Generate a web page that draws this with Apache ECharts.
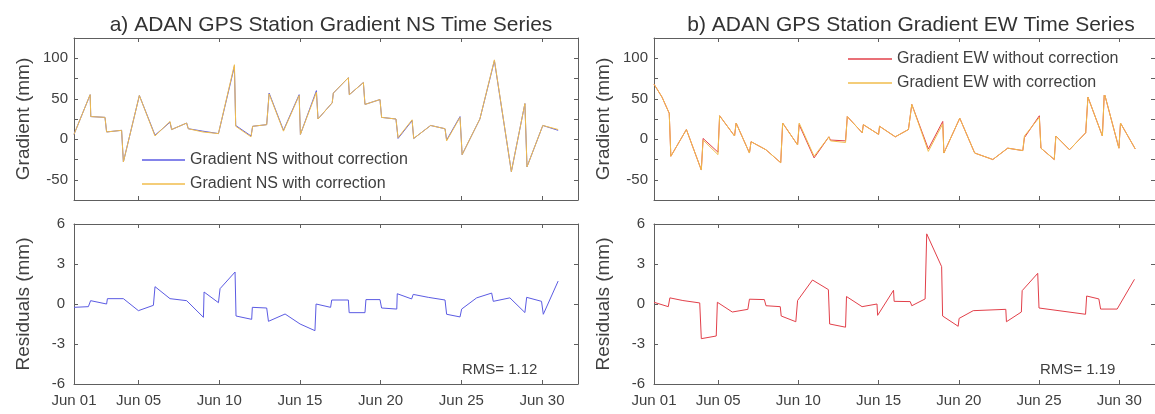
<!DOCTYPE html>
<html>
<head>
<meta charset="utf-8">
<script src="https://cdn.jsdelivr.net/npm/echarts@6/dist/echarts.min.js"></script>
<style>
  html, body { margin: 0; padding: 0; background: #fff; }
  #chart { width: 1155px; height: 414px; }
</style>
</head>
<body>
<div id="chart"></div>
<script>
// x values are days of June (1 = Jun 01 00:00)
const nsDays    = [1.00, 2.00, 2.04, 2.92, 3.02, 3.95, 4.06, 5.05, 6.02, 6.95, 7.05, 7.98, 8.08, 8.98, 9.08, 9.95, 10.94, 11.02, 11.97, 12.07, 12.94, 13.09, 13.98, 14.95, 15.03, 16.02, 16.12, 17.00, 17.07, 18.00, 18.06, 18.93, 19.03, 19.96, 20.06, 20.95, 21.08, 21.95, 22.05, 23.10, 23.99, 24.09, 24.92, 25.05, 25.95, 26.15, 27.05, 28.10, 28.94, 29.07, 30.05, 31.00]
const nsWithout = [6, 55, 28, 27, 9, 11, -28, 54, 5, 21, 12, 20, 13, 10, 8, 7, 90, 17, 4, 16, 18, 57, 11, 55, 6, 60, 25, 45, 57, 76, 55, 70, 43, 49, 27, 25, 1, 23, 1, 17, 13, -1, 28, -19, 17, 25, 97, -40, 44, -34, 17, 11]
const nsWith    = [6, 55, 28, 27, 9, 11, -28, 54, 4, 22, 12, 20, 13, 9, 9, 7, 92, 16, 3, 16, 18, 56, 10, 54, 6, 58, 25, 45, 57, 76, 55, 70, 43, 49, 27, 25, 2, 24, 1, 17, 13, -2, 27, -19, 17, 25, 98, -40, 44, -34, 17, 12]

const ewDays    = [1.00, 1.50, 1.95, 2.05, 3.02, 3.95, 4.06, 4.99, 5.09, 6.02, 6.12, 6.95, 7.05, 7.98, 8.05, 8.90, 9.02, 9.95, 10.05, 10.98, 11.90, 12.00, 12.94, 13.05, 13.98, 14.05, 15.00, 15.06, 16.04, 16.86, 17.07, 18.10, 19.00, 19.07, 20.06, 20.99, 22.12, 23.05, 23.99, 24.09, 25.02, 25.12, 25.95, 26.05, 26.90, 27.91, 28.05, 28.95, 29.07, 29.98, 30.08, 31.00]
const ewWithout = [68, 52, 32, -21, 12, -38, 1, -16, 29, 4, 20, -17, -3, -13, -15, -29, 20, -7, 18, -23, 3, -1, -2, 28, 8, 18, 6, 16, 3, 12, 43, -12, 22, -17, 26, -17, -25, -11, -14, 2, 29, -11, -25, 4, -13, 8, 52, 4, 57, -11, 20, -12]
const ewWith    = [68, 52, 32, -21, 12, -38, -1, -19, 29, 4, 20, -17, -3, -13, -15, -29, 20, -7, 20, -21, 3, -2, -4, 28, 8, 18, 6, 16, 3, 12, 43, -15, 19, -17, 26, -17, -25, -11, -14, 4, 27, -11, -25, 4, -13, 8, 52, 4, 57, -11, 20, -12]

const resNsDays = [1.00, 1.89, 2.03, 3.02, 3.07, 4.06, 4.99, 5.92, 6.02, 6.95, 7.98, 8.09, 9.02, 9.06, 9.95, 10.05, 10.98, 11.04, 12.01, 12.05, 12.94, 13.05, 14.08, 15.01, 15.93, 16.00, 16.90, 16.97, 18.00, 18.05, 19.03, 19.09, 19.96, 20.06, 21.00, 21.03, 21.92, 22.02, 22.95, 23.99, 24.09, 24.92, 25.02, 25.95, 26.88, 26.98, 28.01, 28.94, 29.05, 29.97, 30.08, 31.00]
const resNs     = [-0.25, -0.2, 0.25, 0.0, 0.4, 0.4, -0.5, -0.1, 1.3, 0.4, 0.25, 0.1, -1.0, 0.9, 0.1, 1.15, 2.4, -0.9, -1.15, -0.25, -0.3, -1.3, -0.75, -1.5, -2.0, 0.0, -0.25, 0.3, 0.3, -0.65, -0.65, 0.33, 0.33, -0.3, -0.38, 0.77, 0.38, 0.72, 0.5, 0.3, -0.77, -0.97, -0.38, 0.46, 0.82, 0.2, 0.46, -0.64, 0.5, 0.2, -0.77, 1.72]

const resEwDays = [1.00, 1.89, 1.99, 2.80, 3.85, 3.95, 4.88, 4.95, 5.88, 6.85, 6.95, 7.88, 7.98, 8.87, 8.93, 9.84, 9.95, 10.88, 11.87, 11.95, 12.94, 13.00, 13.97, 14.90, 14.94, 15.93, 15.97, 16.97, 17.07, 17.90, 18.00, 18.93, 18.99, 19.96, 20.02, 20.90, 22.93, 22.97, 23.90, 23.95, 24.92, 25.00, 27.90, 27.97, 28.73, 28.84, 29.87, 30.95]
const resEw     = [0.13, -0.2, 0.46, 0.26, 0.08, -2.6, -2.4, 0.13, -0.6, -0.4, 0.36, 0.33, -0.13, -0.2, -0.9, -1.33, 0.26, 1.8, 1.08, -1.5, -1.74, 0.56, -0.2, 0.0, -0.85, 1.03, 0.2, 0.18, -0.13, 0.38, 5.26, 2.8, -0.9, -1.67, -1.08, -0.5, -0.4, -1.33, -0.6, 1.0, 2.3, -0.3, -0.77, 0.6, 0.38, -0.38, -0.38, 1.85]

const dayTicks = [1, 5, 10, 15, 20, 25, 30]
const gradTicksLabelled = [-50, 0, 50, 100]
const rmsLabels = ['RMS= 1.12', 'RMS= 1.19']
const titles = ['a) ADAN GPS Station Gradient NS Time Series', 'b) ADAN GPS Station Gradient EW Time Series']

const FONT = 'Liberation Sans, Arial, sans-serif'
const TXT = '#404040'
const AXIS = '#5e5e5e'

const zip = (xs, ys) => xs.map((x, i) => [x, ys[i]])
const pad2 = v => 'Jun ' + String(v).padStart(2, '0')

const grids = [
  { left: 74, top: 38, width: 504, height: 162 },
  { left: 74, top: 224, width: 504, height: 160 },
  { left: 654, top: 38, width: 504, height: 162 },
  { left: 654, top: 224, width: 504, height: 160 }
]

const xAxes = []
const yAxes = []
grids.forEach((g, i) => {
  const isRes = i % 2 === 1
  ;['bottom', 'top'].forEach(pos => {
    xAxes.push({
      type: 'value', gridIndex: i, position: pos, min: 1, max: 32.23,
      axisLine: { show: true, onZero: false, lineStyle: { color: AXIS, width: 1 } },
      axisTick: { show: true, inside: true, length: 4, customValues: dayTicks, lineStyle: { color: AXIS } },
      axisLabel: {
        show: isRes && pos === 'bottom', customValues: dayTicks, formatter: pad2,
        color: TXT, fontSize: 15, fontFamily: FONT, margin: 9
      },
      splitLine: { show: false }
    })
  })
  ;['left', 'right'].forEach(pos => {
    yAxes.push({
      type: 'value', gridIndex: i, position: pos,
      min: isRes ? -6 : -75, max: isRes ? 6 : 125, interval: isRes ? 3 : 25,
      name: pos === 'left' ? (isRes ? 'Residuals (mm)' : 'Gradient (mm)') : '',
      nameLocation: 'middle', nameGap: 41,
      nameTextStyle: { color: TXT, fontSize: 19, fontFamily: FONT },
      axisLine: { show: true, onZero: false, lineStyle: { color: AXIS, width: 1 } },
      axisTick: { show: true, inside: true, length: 4, lineStyle: { color: AXIS } },
      axisLabel: {
        show: pos === 'left', color: TXT, fontSize: 15, fontFamily: FONT,
        margin: isRes ? 9 : 6,
        formatter: v => (isRes || gradTicksLabelled.includes(v)) ? String(v) : ''
      },
      splitLine: { show: false }
    })
  })
})

const line = (name, data, idx, color, z) => ({
  name, type: 'line', data, xAxisIndex: idx * 2, yAxisIndex: idx * 2,
  symbol: 'none', lineStyle: { color, width: 1 }, itemStyle: { color },
  z, animation: false
})

const BLUE = '#5b5be3'
const YELLOW = '#f1bd4c'
const RED = '#e2404a'

const legendBase = {
  orient: 'vertical', icon: 'rect', itemHeight: 1.5, itemGap: 8,
  padding: [4, 4, 4, 4], backgroundColor: '#fff',
  textStyle: { color: TXT, fontSize: 16, fontFamily: FONT }
}

const option = {
  backgroundColor: '#fff',
  animation: false,
  title: [
    { text: titles[0], left: 326, top: 10, textAlign: 'center', textStyle: { color: '#333', fontSize: 21, fontWeight: 'normal', fontFamily: FONT } },
    { text: titles[1], left: 906, top: 10, textAlign: 'center', textStyle: { color: '#333', fontSize: 21, fontWeight: 'normal', fontFamily: FONT } },
    { text: rmsLabels[0], left: 457, top: 357, textStyle: { color: TXT, fontSize: 15, fontWeight: 'normal', fontFamily: FONT } },
    { text: rmsLabels[1], left: 1035, top: 357, textStyle: { color: TXT, fontSize: 15, fontWeight: 'normal', fontFamily: FONT } }
  ],
  legend: [
    Object.assign({}, legendBase, {
      data: ['Gradient NS without correction', 'Gradient NS with correction'],
      left: 138, top: 148, itemWidth: 43
    }),
    Object.assign({}, legendBase, {
      data: ['Gradient EW without correction', 'Gradient EW with correction'],
      left: 844, top: 47, itemWidth: 44
    })
  ],
  grid: grids,
  xAxis: xAxes,
  yAxis: yAxes,
  series: [
    line('Gradient NS without correction', zip(nsDays, nsWithout), 0, BLUE, 2),
    line('Gradient NS with correction', zip(nsDays, nsWith), 0, YELLOW, 3),
    line('NS residuals', zip(resNsDays, resNs), 1, BLUE, 2),
    line('Gradient EW without correction', zip(ewDays, ewWithout), 2, RED, 2),
    line('Gradient EW with correction', zip(ewDays, ewWith), 2, YELLOW, 3),
    line('EW residuals', zip(resEwDays, resEw), 3, RED, 2)
  ]
}

const chart = echarts.init(document.getElementById('chart'))
chart.setOption(option)
</script>
</body>
</html>
